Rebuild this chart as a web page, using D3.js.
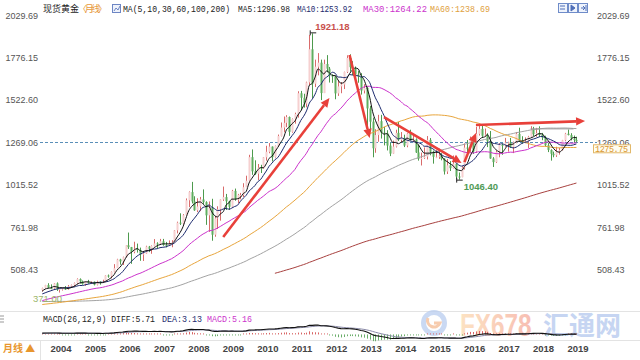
<!DOCTYPE html>
<html><head><meta charset="utf-8">
<script src="https://cdn.jsdelivr.net/npm/d3@7"></script>
<style>body{margin:0;background:#fff}svg{display:block}</style>
</head><body><svg id="c" width="640" height="360"></svg>
<script>
// ---------------- DATA ----------------
// monthly closes before the visible window (1994-01 .. 2003-10), used only for the moving averages / MACD
const earlyCloses = [
 378,381,389,376,387,388,384,386,395,390,383,383,
 375,376,392,389,385,387,383,382,384,383,387,387,
 405,400,396,392,391,382,385,387,379,379,371,369,
 345,358,349,340,345,334,326,325,332,311,296,290,
 302,297,301,310,293,296,288,273,294,292,294,288,
 287,287,279,286,268,261,255,254,299,299,291,290,
 283,293,277,274,273,289,276,278,273,264,270,274,
 266,267,258,263,267,270,266,273,293,279,275,277,
 282,297,302,308,327,318,305,312,324,317,317,347,
 368,348,335,339,364,346,354,375,384,386];
const firstMonth = "2003-11";
const opens = [386,398,
 416,400,396,426,388,393,395,391,408,416,428,452,
 438,422,436,428,436,418,436,429,434,473,470,495,
 517,569,557,583,654,643,614,633,626,599,604,646,
 632,650,665,663,678,656,650,665,672,743,789,783,
 834,923,972,916,863,886,928,912,833,880,717,815,
 869,928,942,917,884,979,927,955,955,1001,1040,1181,
 1096,1082,1118,1113,1180,1213,1244,1181,1248,1307,1358,1386,
 1421,1332,1409,1439,1563,1536,1501,1628,1826,1620,1722,1746,
 1564,1738,1710,1669,1664,1562,1604,1615,1690,1774,1719,1712,
 1675,1663,1579,1595,1472,1393,1234,1313,1396,1327,1323,1250,
 1202,1244,1326,1284,1296,1250,1322,1283,1287,1209,1171,1175,
 1184,1284,1213,1183,1183,1190,1172,1095,1132,1115,1142,1065,
 1061,1118,1238,1234,1292,1215,1320,1350,1309,1316,1276,1173,
 1151,1211,1254,1249,1268,1268,1242,1269,1320,1280,1271,1275,
 1303,1345,1318,1325,1315,1298,1252,1224,1201,1192,1215,1222,
 1282,1321,1313,1292,1284];
const highs = [400,417,
 427,420,428,432,395,399,410,416,419,431,456,456,
 443,438,447,439,437,442,438,448,474,479,497,541,
 573,573,586,654,730,644,675,664,640,612,651,650,
 653,691,672,692,692,674,683,684,745,795,845,840,
 934,976,1033,947,935,943,988,917,916,932,829,887,
 928,1005,961,920,985,993,961,967,1025,1070,1195,1227,
 1162,1140,1135,1181,1249,1265,1245,1250,1316,1388,1424,1432,
 1424,1412,1447,1575,1577,1560,1632,1912,1921.18,1764,1803,1764,
 1764,1791,1720,1677,1668,1641,1630,1692,1790,1796,1755,1723,
 1696,1683,1617,1605,1487,1417,1348,1434,1434,1361,1342,1267,
 1280,1345,1392,1331,1315,1326,1345,1322,1293,1255,1208,1239,
 1307,1295,1220,1225,1232,1205,1175,1170,1157,1191,1142,1089,
 1128,1263,1283,1304,1304,1362,1375,1367,1352,1324,1337,1181,
 1220,1264,1262,1296,1273,1296,1274,1331,1357,1306,1299,1308,
 1366,1362,1356,1365,1326,1309,1265,1228,1214,1243,1237,1284,
 1326,1346,1324,1310,1303];
const lows = [378,396,
 399,391,392,381,371,383,387,388,400,409,423,426,
 418,411,424,422,414,414,418,428,432,460,456,491,
 517,538,536,582,632,543,606,610,561,560,602,613,
 603,647,636,660,651,641,649,642,670,725,775,779,
 834,882,904,860,852,858,900,776,734,681,705,751,
 801,919,865,865,881,920,905,929,942,1001,1036,1075,
 1075,1044,1086,1110,1160,1204,1155,1178,1243,1305,1330,1360,
 1308,1327,1381,1417,1462,1477,1479,1610,1535,1600,1670,1522,
 1564,1688,1627,1625,1527,1547,1563,1588,1684,1692,1672,1635,
 1626,1555,1562,1321,1338,1180,1207,1273,1292,1251,1221,1187,
 1202,1239,1277,1268,1241,1240,1280,1271,1206,1160,1131,1170,
 1167,1192,1142,1175,1170,1162,1077,1080,1098,1113,1052,1046.40,
 1061,1107,1208,1208,1200,1206,1310,1302,1302,1241,1171,1122,
 1146,1180,1195,1243,1214,1236,1205,1264,1272,1261,1264,1236,
 1303,1307,1303,1301,1282,1245,1211,1160,1180,1182,1196,1221,
 1276,1311,1281,1266,1267];
const closes = [398,416,
 400,396,426,388,393,395,391,408,416,428,452,438,
 422,436,428,436,418,436,429,434,473,470,495,517,
 569,557,583,654,643,614,633,626,599,604,646,632,
 650,665,663,678,656,650,665,672,743,789,783,834,
 923,972,916,863,886,928,912,833,880,717,815,869,
 928,942,917,884,979,927,955,955,1001,1040,1181,1096,
 1082,1118,1113,1180,1213,1244,1181,1248,1307,1358,1386,1421,
 1332,1409,1439,1563,1536,1501,1628,1826,1620,1722,1746,1564,
 1738,1710,1669,1664,1562,1604,1615,1690,1774,1719,1712,1675,
 1663,1579,1595,1472,1393,1234,1313,1396,1327,1323,1250,1202,
 1244,1326,1284,1296,1250,1322,1283,1287,1209,1171,1175,1184,
 1284,1213,1183,1183,1190,1172,1095,1132,1115,1142,1065,1061,
 1118,1238,1234,1292,1215,1320,1350,1309,1316,1276,1173,1151,
 1211,1254,1249,1268,1268,1242,1269,1320,1280,1271,1275,1303,
 1345,1318,1325,1315,1298,1252,1224,1201,1192,1215,1222,1282,
 1321,1313,1292,1284,1275.75];
const yTicks = [508.43, 761.98, 1015.52, 1269.06, 1522.60, 1776.15, 2029.69];
const refLevel = 1269.06;
const lastPrice = 1275.75;
const yearLabels = ["2004","2005","2006","2007","2008","2009","2010","2011","2012","2013","2014","2015","2016","2017","2018","2019"];
const maPeriods = [5, 10, 30, 60, 100, 200];
const maHeaderValues = [1296.98, 1253.92, 1264.22, 1238.69];
const macdValues = {diff: 5.71, dea: 3.13, macd: 5.16};
const peakLabel = {month: "2011-09", value: 1921.18};
const troughLabel = {month: "2015-12", value: 1046.40};
const lowLabel = {month: "2004-05", value: 371.00};
const arrows = [
  [["2009-02", 703], ["2012-03", 1534]],
  [["2012-10", 1792], ["2013-05", 1295]],
  [["2013-10", 1420], ["2016-01", 1146]],
  [["2016-02", 1151], ["2016-06", 1325]],
  [["2016-06", 1373], ["2019-08", 1397]]
];
const resistance = [["2018-01", 1350], ["2019-04", 1350]];

// ---------------- STYLE ----------------
const maColors = ["#111111", "#1c2a6e", "#cc33cc", "#e8a53c", "#a3a3a3", "#a8413f"];
const upFill = "#f6d0d0", upStroke = "#d96b6b", dnFill = "#5fae5f", dnStroke = "#4d9a4d";

// ---------------- SCALES ----------------
const svg = d3.select("#c");
const n = closes.length;
const [fy, fm] = firstMonth.split("-").map(Number);
const idx = s => { const [yy, mm] = s.split("-").map(Number); return (yy - fy) * 12 + (mm - fm); };
const xi = d3.scaleLinear().domain([0, n - 1]).range([42.26, 42.26 + (n - 1) * 2.872]);
const y = d3.scaleLinear().domain([508.43, 2029.69]).range([269.6, 15.2]);

// frame lines
const fr = svg.append("g").attr("stroke", "#e3e3e3").attr("shape-rendering", "crispEdges");
fr.append("line").attr("x1", 0).attr("x2", 640).attr("y1", 311.5).attr("y2", 311.5);
fr.append("line").attr("x1", 0).attr("x2", 640).attr("y1", 340.5).attr("y2", 340.5);
fr.append("line").attr("x1", 40.5).attr("x2", 40.5).attr("y1", 340).attr("y2", 360);

// watermark
const wm = svg.append("g").attr("opacity", 0.75);
wm.append("circle").attr("cx", 434).attr("cy", 323).attr("r", 10.5).attr("fill", "none").attr("stroke", "#b9cdef").attr("stroke-width", 5);
wm.append("path").attr("d", "M 428 318 A 6 6 0 1 0 440 323 L 434 323").attr("fill", "none").attr("stroke", "#f5bb93").attr("stroke-width", 3);
const gr = svg.append("defs").append("linearGradient").attr("id", "wg").attr("x1", "0").attr("x2", "1");
gr.append("stop").attr("offset", "0").attr("stop-color", "#fcd9ae");
gr.append("stop").attr("offset", "1").attr("stop-color", "#f5a99a");
wm.append("g").attr("transform", "translate(460,336) scale(0.76,1)")
  .append("text").attr("x", 0).attr("y", 0).attr("font-family", "Liberation Sans, sans-serif")
  .attr("font-weight", "bold").attr("font-size", 32).attr("fill", "url(#wg)").text("FX678");
wm.append("text").attr("x", 543).attr("y", 335).attr("font-family", "Noto Sans CJK SC").attr("font-weight", "bold")
  .attr("font-size", 26).attr("fill", "#b3c8ee").text("汇通网");

// clip for main panel
svg.append("defs").append("clipPath").attr("id", "mc").append("rect").attr("x", 40).attr("y", 10).attr("width", 557).attr("height", 296);
const main = svg.append("g").attr("clip-path", "url(#mc)");

// reference dashed line
main.append("line").attr("x1", 40).attr("x2", 597).attr("y1", Math.round(y(refLevel)) + 0.5).attr("y2", Math.round(y(refLevel)) + 0.5)
  .attr("stroke", "#5a8fb8").attr("stroke-dasharray", "3,2").attr("stroke-width", 1);

// candles
const cdata = closes.map((c, i) => ({i, o: opens[i], h: highs[i], l: lows[i], c}));
const cg = main.append("g");
cg.selectAll("line").data(cdata).join("line")
  .attr("x1", d => Math.round(xi(d.i)) + 0.5).attr("x2", d => Math.round(xi(d.i)) + 0.5)
  .attr("y1", d => y(d.h)).attr("y2", d => y(d.l))
  .attr("stroke", d => d.c >= d.o ? upStroke : dnStroke).attr("stroke-width", 1);
cg.selectAll("rect").data(cdata).join("rect")
  .attr("x", d => Math.round(xi(d.i)) - 0.5).attr("width", 2)
  .attr("y", d => y(Math.max(d.o, d.c))).attr("height", d => Math.max(1, Math.abs(y(d.o) - y(d.c))))
  .attr("fill", d => d.c >= d.o ? upFill : dnFill);

// moving averages
const allCloses = earlyCloses.concat(closes);
const off = earlyCloses.length;
function sma(p) {
  return closes.map((_, i) => { const j = i + off; return j < p - 1 ? null : d3.mean(allCloses.slice(j - p + 1, j + 1)); });
}
const line = d3.line().defined(d => d.v != null).x(d => xi(d.i)).y(d => y(d.v)).curve(d3.curveMonotoneX);
maPeriods.slice().reverse().forEach((p, k) => {
  const ci = maPeriods.length - 1 - k;
  const vals = sma(p).map((v, i) => ({i, v}));
  main.append("path").datum(vals).attr("d", line).attr("fill", "none").attr("stroke", maColors[ci]).attr("stroke-width", 1);
});

// resistance line
main.append("line").attr("x1", xi(idx(resistance[0][0]))).attr("x2", xi(idx(resistance[1][0])))
  .attr("y1", y(resistance[0][1])).attr("y2", y(resistance[1][1])).attr("stroke", "#999").attr("stroke-width", 1);

// arrows
const ag = svg.append("g").attr("fill", "#e8403a").attr("stroke", "#e8403a");
arrows.forEach(([a, b]) => {
  const x0 = xi(idx(a[0])), y0 = y(a[1]), x1 = xi(idx(b[0])), y1 = y(b[1]);
  const ang = Math.atan2(y1 - y0, x1 - x0), L = 9, W = 4.2;
  const bx = x1 - L * Math.cos(ang), by = y1 - L * Math.sin(ang);
  ag.append("line").attr("x1", x0).attr("y1", y0).attr("x2", bx).attr("y2", by).attr("stroke-width", 2.6);
  const px = -Math.sin(ang) * W, py = Math.cos(ang) * W;
  ag.append("path").attr("stroke", "none").attr("d", `M${x1},${y1}L${bx + px},${by + py}L${bx - px},${by - py}Z`);
});

// extreme labels
const px0 = xi(idx(peakLabel.month)), py0 = y(peakLabel.value);
svg.append("path").attr("d", `M${px0 - 2},${py0 - 3}V${py0 + 2}M${px0 - 2},${py0 - 0.5}H${px0 + 4}`).attr("stroke", "#222").attr("fill", "none");
svg.append("text").attr("x", px0 + 3).attr("y", py0 - 3).attr("font-family", "Liberation Sans, Arial, sans-serif")
  .attr("font-size", 9.5).attr("font-weight", "bold").attr("fill", "#c8504c").text(peakLabel.value.toFixed(2));
const tx0 = xi(idx(troughLabel.month)), ty0 = y(troughLabel.value);
svg.append("path").attr("d", `M${tx0 - 2},${ty0 - 2}V${ty0 + 3}M${tx0 - 2},${ty0 + 0.5}H${tx0 + 4}`).attr("stroke", "#222").attr("fill", "none");
svg.append("text").attr("x", tx0 + 5).attr("y", ty0 + 10).attr("font-family", "Liberation Sans, Arial, sans-serif")
  .attr("font-size", 9.5).attr("font-weight", "bold").attr("fill", "#4f9a56").text(troughLabel.value.toFixed(2));
const lx0 = xi(idx(lowLabel.month)), ly0 = y(lowLabel.value);
svg.append("text").attr("x", lx0 - 12).attr("y", ly0 + 9).attr("text-anchor", "middle").attr("font-family", "Liberation Sans, Arial, sans-serif")
  .attr("font-size", 9.5).attr("fill", "#9cb56a").text(lowLabel.value.toFixed(2));

// y axes
const fmt = d3.format(".2f");
const axL = svg.append("g").attr("transform", "translate(39,0)").call(d3.axisLeft(y).tickValues(yTicks).tickSize(0).tickPadding(1).tickFormat(fmt));
const axR = svg.append("g").attr("transform", "translate(596,0)").call(d3.axisRight(y).tickValues(yTicks).tickSize(0).tickPadding(1).tickFormat(fmt));
[axL, axR].forEach(a => {
  a.select(".domain").remove();
  a.selectAll("text").attr("font-family", "Liberation Sans, Arial, sans-serif").attr("font-size", 9).attr("fill", "#555");
});
// last price box (drawn over the right 1269.06 label, as in the reference)
const lb = svg.append("g").attr("transform", `translate(593,${y(lastPrice) + 3})`);
lb.append("rect").attr("x", 0.5).attr("y", 0.5).attr("width", 37).attr("height", 8).attr("fill", "#fffdf0").attr("stroke", "#e2b86a");
lb.append("text").attr("x", 2).attr("y", 7.5).attr("font-family", "Liberation Mono, monospace").attr("font-size", 8.5)
  .attr("textLength", 33).attr("fill", "#d9962f").text(lastPrice.toFixed(2));

// header
const hd = svg.append("g").attr("font-size", 9);
hd.append("text").attr("x", 43).attr("y", 12).attr("font-family", "Noto Sans CJK SC").attr("fill", "#222").text("现货黄金");
hd.append("text").attr("x", 78).attr("y", 12).attr("font-family", "Noto Sans CJK SC").attr("fill", "#e89a3c").attr("textLength", 29).text("〈月线〉");
hd.append("rect").attr("x", 112.5).attr("y", 4.5).attr("width", 8).attr("height", 8).attr("fill", "#eef2fb").attr("stroke", "#6d86c4");
hd.append("path").attr("d", "M114,11 L116,8 L118,10 L120,6").attr("stroke", "#6d86c4").attr("fill", "none");
const mono = "Liberation Mono, DejaVu Sans Mono, monospace";
const hItems = [
  {x: 123, w: 107, t: "MA(5,10,30,60,100,200)", c: "#222"},
  {x: 238, w: 52, t: "MA5:" + maHeaderValues[0].toFixed(2), c: "#222"},
  {x: 297, w: 55, t: "MA10:" + maHeaderValues[1].toFixed(2), c: "#1c2a6e"},
  {x: 363, w: 64, t: "MA30:" + maHeaderValues[2].toFixed(2), c: "#cc33cc"},
  {x: 430, w: 60, t: "MA60:" + maHeaderValues[3].toFixed(2), c: "#e0a040"}
];
hItems.forEach(h => hd.append("text").attr("x", h.x).attr("y", 12).attr("font-family", mono).attr("font-size", 8.5)
  .attr("textLength", h.w).attr("lengthAdjust", "spacingAndGlyphs").attr("fill", h.c).text(h.t));
[558, 568, 578].forEach((xx, k) => {
  hd.append("rect").attr("x", xx + 0.5).attr("y", 3.5).attr("width", 9).attr("height", 9).attr("fill", "#eef3fc").attr("stroke", "#6f8cc9");
  hd.append("path").attr("d", k === 0 ? `M${xx + 2},${6}h5M${xx + 2},${9}h5` : k === 1 ? `M${xx + 3},${5}l4,3l-4,3z` : `M${xx + 3},${8}h4M${xx + 5},${6}l2,2l-2,2M${xx + 8},${5}v6`)
    .attr("stroke", "#4f6fb8").attr("fill", k === 1 ? "#4f6fb8" : "none");
});

// MACD
function ema(arr, p) { const k = 2 / (p + 1); let e = arr[0]; return arr.map((v, i) => i === 0 ? e : (e = v * k + e * (1 - k))); }
const e12 = ema(allCloses, 12), e26 = ema(allCloses, 26);
const diffAll = e12.map((v, i) => v - e26[i]);
const deaAll = ema(diffAll, 9);
const diffV = diffAll.slice(off).map((v, i) => ({i, v}));
const deaV = deaAll.slice(off).map((v, i) => ({i, v}));
const barV = diffV.map((d, i) => ({i, v: 2 * (d.v - deaV[i].v)}));
const ext = d3.extent(diffV.concat(deaV), d => d.v);
const ym = d3.scaleLinear().domain(ext).range([338.5, 325]);
const mg = svg.append("g");
mg.selectAll("line").data(barV).join("line")
  .attr("x1", d => Math.round(xi(d.i)) + 0.5).attr("x2", d => Math.round(xi(d.i)) + 0.5)
  .attr("y1", ym(0)).attr("y2", d => d.v >= 0 ? Math.min(ym(0) - 1, ym(d.v)) : Math.max(ym(0) + 1, ym(d.v)))
  .attr("stroke", d => d.v >= 0 ? "#d86464" : "#6aae6a").attr("stroke-width", 1);
const mline = d3.line().x(d => xi(d.i)).y(d => ym(d.v));
mg.append("path").datum(deaV).attr("d", mline).attr("fill", "none").attr("stroke", "#8a8aa8").attr("stroke-width", 1);
mg.append("path").datum(diffV).attr("d", mline).attr("fill", "none").attr("stroke", "#111").attr("stroke-width", 1.1);
const mt = svg.append("g").attr("font-family", mono).attr("font-size", 8.5);
mt.append("text").attr("x", 43).attr("y", 322).attr("textLength", 112).attr("lengthAdjust", "spacingAndGlyphs").attr("fill", "#222")
  .text("MACD(26,12,9) DIFF:" + macdValues.diff.toFixed(2));
mt.append("text").attr("x", 162).attr("y", 322).attr("textLength", 40).attr("lengthAdjust", "spacingAndGlyphs").attr("fill", "#1c2a6e")
  .text("DEA:" + macdValues.dea.toFixed(2));
mt.append("text").attr("x", 207).attr("y", 322).attr("textLength", 45).attr("lengthAdjust", "spacingAndGlyphs").attr("fill", "#cc33cc")
  .text("MACD:" + macdValues.macd.toFixed(2));
svg.append("path").attr("d", "M0,316h4M0,319h4M0,322h4").attr("stroke", "#999");

// year axis
const yearIdx = yearLabels.map(s => idx(s + "-01"));
const xa = svg.append("g").attr("transform", "translate(0,352)")
  .call(d3.axisBottom(xi).tickValues(yearIdx).tickSize(0).tickPadding(0).tickFormat((d, k) => yearLabels[k]));
xa.select(".domain").remove();
xa.selectAll("text").attr("text-anchor", "start").attr("dx", 2).attr("dy", 0).attr("y", 0)
  .attr("font-family", "Liberation Sans, Arial, sans-serif").attr("font-size", 9.5).attr("font-weight", "bold").attr("fill", "#444");
svg.append("text").attr("x", 3).attr("y", 352).attr("font-family", "Noto Sans CJK SC").attr("font-weight", "bold")
  .attr("font-size", 10).attr("fill", "#e8962e").text("月线 ▲");
</script></body></html>
